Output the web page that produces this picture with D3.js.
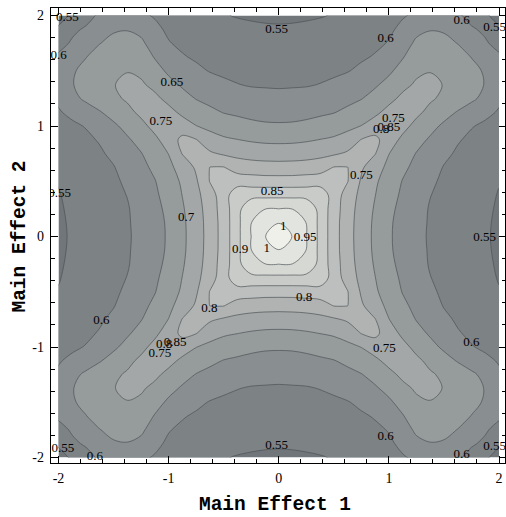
<!DOCTYPE html>
<html>
<head>
<meta charset="utf-8">
<script src="https://cdn.jsdelivr.net/npm/d3@7"></script>
<style>
    body { margin: 0; background: #fff; }
</style>
</head>
<body>
<div id="chart"></div>
<script>
// contour levels drawn in the plot
var levels = [0.55, 0.6, 0.65, 0.7, 0.75, 0.8, 0.85, 0.9, 0.95, 1];

var xTicks = [-2, -1, 0, 1, 2];
var yTicks = [-2, -1, 0, 1, 2];

// grid spacing of the values below (both effects)
var gridStep = 0.125;

// one quadrant: rows are Main Effect 2 = 0 .. 2, columns Main Effect 1 = 0 .. 2
var quadrant = [
    [1.04, 0.998, 0.95, 0.887, 0.821, 0.769, 0.726, 0.690, 0.656, 0.632, 0.612, 0.595, 0.585, 0.574, 0.564, 0.553, 0.545],
    [0.998, 0.989, 0.949, 0.887, 0.821, 0.770, 0.727, 0.691, 0.657, 0.633, 0.613, 0.596, 0.585, 0.575, 0.564, 0.554, 0.545],
    [0.95, 0.949, 0.938, 0.885, 0.824, 0.773, 0.730, 0.695, 0.662, 0.636, 0.615, 0.597, 0.587, 0.576, 0.566, 0.556, 0.546],
    [0.887, 0.887, 0.885, 0.884, 0.827, 0.779, 0.736, 0.701, 0.669, 0.642, 0.621, 0.601, 0.590, 0.579, 0.569, 0.559, 0.548],
    [0.821, 0.821, 0.824, 0.827, 0.836, 0.802, 0.744, 0.707, 0.677, 0.648, 0.627, 0.607, 0.593, 0.583, 0.573, 0.562, 0.552],
    [0.769, 0.770, 0.773, 0.779, 0.802, 0.801, 0.757, 0.720, 0.688, 0.660, 0.637, 0.616, 0.598, 0.588, 0.579, 0.569, 0.559],
    [0.726, 0.727, 0.730, 0.736, 0.744, 0.757, 0.782, 0.752, 0.701, 0.674, 0.648, 0.628, 0.608, 0.595, 0.586, 0.577, 0.568],
    [0.690, 0.691, 0.695, 0.701, 0.707, 0.720, 0.752, 0.763, 0.722, 0.690, 0.666, 0.644, 0.623, 0.603, 0.593, 0.586, 0.578],
    [0.656, 0.657, 0.662, 0.669, 0.677, 0.688, 0.701, 0.722, 0.746, 0.714, 0.687, 0.664, 0.642, 0.622, 0.602, 0.594, 0.588],
    [0.632, 0.633, 0.636, 0.642, 0.648, 0.660, 0.674, 0.690, 0.714, 0.733, 0.710, 0.688, 0.667, 0.647, 0.627, 0.608, 0.597],
    [0.612, 0.613, 0.615, 0.621, 0.627, 0.637, 0.648, 0.666, 0.687, 0.710, 0.719, 0.706, 0.691, 0.675, 0.659, 0.637, 0.606],
    [0.595, 0.596, 0.597, 0.601, 0.607, 0.616, 0.628, 0.644, 0.664, 0.688, 0.706, 0.706, 0.699, 0.682, 0.666, 0.648, 0.620],
    [0.585, 0.585, 0.587, 0.590, 0.593, 0.598, 0.608, 0.623, 0.642, 0.667, 0.691, 0.699, 0.688, 0.674, 0.660, 0.646, 0.634],
    [0.574, 0.575, 0.576, 0.579, 0.583, 0.588, 0.595, 0.603, 0.622, 0.647, 0.675, 0.682, 0.674, 0.664, 0.649, 0.630, 0.610],
    [0.564, 0.564, 0.566, 0.569, 0.573, 0.579, 0.586, 0.593, 0.602, 0.627, 0.659, 0.666, 0.660, 0.649, 0.633, 0.607, 0.580],
    [0.553, 0.554, 0.556, 0.559, 0.562, 0.569, 0.577, 0.586, 0.594, 0.608, 0.637, 0.648, 0.646, 0.630, 0.607, 0.589, 0.555],
    [0.545, 0.545, 0.546, 0.548, 0.552, 0.559, 0.568, 0.578, 0.588, 0.597, 0.606, 0.620, 0.634, 0.610, 0.580, 0.555, 0.538]
];

// contour labels where the plot puts them: [effect 1, effect 2, text]
var labels = [
    [-1.92, 1.99, "0.55"], [-2.0, 1.65, "0.6"], [-0.97, 1.40, "0.65"], [-1.07, 1.05, "0.75"],
    [-1.99, 0.40, "0.55"], [-0.84, 0.18, "0.7"], [-0.35, -0.11, "0.9"], [-0.06, 0.42, "0.85"],
    [0.04, 0.10, "1"], [0.24, 0.0, "0.95"], [-0.11, -0.10, "1"], [0.23, -0.54, "0.8"],
    [-0.02, 1.88, "0.55"], [0.97, 1.80, "0.6"], [1.66, 1.96, "0.6"], [1.96, 1.90, "0.55"],
    [1.04, 1.08, "0.75"], [1.0, 1.0, "0.85"], [0.93, 0.98, "0.8"], [0.75, 0.56, "0.75"],
    [1.87, 0.0, "0.55"], [-1.61, -0.75, "0.6"], [-0.63, -0.64, "0.8"], [-0.94, -0.95, "0.85"],
    [-1.04, -0.97, "0.8"], [-1.08, -1.05, "0.75"], [-1.96, -1.91, "0.55"], [-1.67, -1.98, "0.6"],
    [0.96, -1.0, "0.75"], [1.75, -0.95, "0.6"], [0.97, -1.80, "0.6"], [-0.02, -1.88, "0.55"],
    [1.66, -1.96, "0.6"], [1.96, -1.89, "0.55"]
];

var width = 506,
    height = 517;

var x = d3.scaleLinear().domain([-2, 2]).range([58.5, 499]);
var y = d3.scaleLinear().domain([-2, 2]).range([457.5, 15.5]);

// the frame sits a little outside the plotted range
var frameX = [-2.0725, 2.06],
    frameY = [-2.054, 2.072];

var shade = d3.scaleLinear()
    .domain([0, levels.length])
    .range(["#70767a", "#eff0ea"]);

var svg = d3.select("#chart").append("svg")
    .attr("width", width)
    .attr("height", height)
    .style("font-family", "'Liberation Serif', 'Times New Roman', serif");

// whole grid from the quadrant (the surface is symmetric in both effects)
var mid = quadrant.length - 1,
    n = mid * 2 + 1;
var values = new Array(n * n);
for (var j = 0; j < n; j++) {
    for (var i = 0; i < n; i++) {
        values[j * n + i] = quadrant[Math.abs(j - mid)][Math.abs(i - mid)];
    }
}

var contours = d3.contours()
    .size([n, n])
    .thresholds(levels)(values);

// grid coordinates -> effects -> pixels, rings drawn as smooth closed curves
var ring = d3.line().curve(d3.curveCatmullRomClosed.alpha(0.5));

function contourPath(d) {
    var s = "";
    d.coordinates.forEach(function (polygon) {
        polygon.forEach(function (r) {
            var pts = r.slice(0, -1).map(function (p) {
                return [x(-2 + (p[0] - 0.5) * gridStep), y(-2 + (p[1] - 0.5) * gridStep)];
            });
            s += ring(pts);
        });
    });
    return s;
}

var defs = svg.append("defs");
defs.append("clipPath").attr("id", "plotClip")
    .append("rect")
    .attr("x", x(-2)).attr("y", y(2))
    .attr("width", x(2) - x(-2)).attr("height", y(-2) - y(2));
defs.append("clipPath").attr("id", "frameClip")
    .append("rect")
    .attr("x", x(frameX[0]) + 0.5).attr("y", y(frameY[1]) + 0.5)
    .attr("width", x(frameX[1]) - x(frameX[0]) - 1).attr("height", y(frameY[0]) - y(frameY[1]) - 1);

var plot = svg.append("g").attr("clip-path", "url(#plotClip)");

plot.append("rect")
    .attr("x", x(-2)).attr("y", y(2))
    .attr("width", x(2) - x(-2)).attr("height", y(-2) - y(2))
    .style("fill", shade(0));

plot.selectAll(".band")
    .data(contours)
    .enter().append("path")
    .attr("class", "band")
    .attr("d", contourPath)
    .style("fill", function (d, i) {
        return shade(i + 1);
    })
    .style("stroke", "none");

plot.selectAll(".isoline")
    .data(contours)
    .enter().append("path")
    .attr("class", "isoline")
    .attr("d", contourPath)
    .style("fill", "none")
    .style("stroke", "#4a5054")
    .style("stroke-opacity", 0.75)
    .style("stroke-width", 0.9);

svg.append("g")
    .attr("clip-path", "url(#frameClip)")
    .selectAll(".clabel")
    .data(labels)
    .enter().append("text")
    .attr("class", "clabel")
    .attr("x", function (d) { return x(d[0]); })
    .attr("y", function (d) { return y(d[1]); })
    .attr("dy", "0.35em")
    .style("text-anchor", "middle")
    .style("font-size", "13px")
    .style("fill", "#000")
    .text(function (d) { return d[2]; });

// frame with ticks on all four sides
var fx0 = x(frameX[0]), fx1 = x(frameX[1]),
    fy0 = y(frameY[0]), fy1 = y(frameY[1]);

var frame = svg.append("g").attr("class", "frame")
    .style("stroke", "#000")
    .style("stroke-width", 1)
    .style("shape-rendering", "crispEdges");

frame.append("rect")
    .attr("x", fx0).attr("y", fy1)
    .attr("width", fx1 - fx0).attr("height", fy0 - fy1)
    .style("fill", "none");

var minor = d3.range(-2, 2.0001, 0.2).map(function (v) { return Math.round(v * 10) / 10; });

function tickLen(v) {
    return Math.abs(v - Math.round(v)) < 1e-6 ? 7 : 4;
}

minor.forEach(function (v) {
    var px = x(v), py = y(v), len = tickLen(v);
    frame.append("line").attr("x1", px).attr("x2", px).attr("y1", fy0).attr("y2", fy0 - len);
    frame.append("line").attr("x1", px).attr("x2", px).attr("y1", fy1).attr("y2", fy1 + len);
    frame.append("line").attr("y1", py).attr("y2", py).attr("x1", fx0).attr("x2", fx0 + len);
    frame.append("line").attr("y1", py).attr("y2", py).attr("x1", fx1).attr("x2", fx1 - len);
});

function tickText(d) {
    return d < 0 ? "-" + Math.abs(d) : String(d);
}

svg.selectAll(".xlab")
    .data(xTicks)
    .enter().append("text")
    .attr("class", "xlab")
    .attr("x", function (d) { return x(d); })
    .attr("y", 483)
    .style("text-anchor", "middle")
    .style("font-size", "14px")
    .text(tickText);

svg.selectAll(".ylab")
    .data(yTicks)
    .enter().append("text")
    .attr("class", "ylab")
    .attr("x", 44)
    .attr("y", function (d) { return y(d); })
    .attr("dy", "0.35em")
    .style("text-anchor", "end")
    .style("font-size", "14px")
    .text(tickText);

svg.append("text")
    .attr("x", 275)
    .attr("y", 510)
    .style("text-anchor", "middle")
    .style("font-family", "'Liberation Mono', 'Courier New', monospace")
    .style("font-weight", "bold")
    .style("font-size", "19.5px")
    .text("Main Effect 1");

svg.append("text")
    .attr("transform", "translate(25," + y(0) + ") rotate(-90)")
    .style("text-anchor", "middle")
    .style("font-family", "'Liberation Mono', 'Courier New', monospace")
    .style("font-weight", "bold")
    .style("font-size", "19.5px")
    .text("Main Effect 2");
</script>
</body>
</html>
